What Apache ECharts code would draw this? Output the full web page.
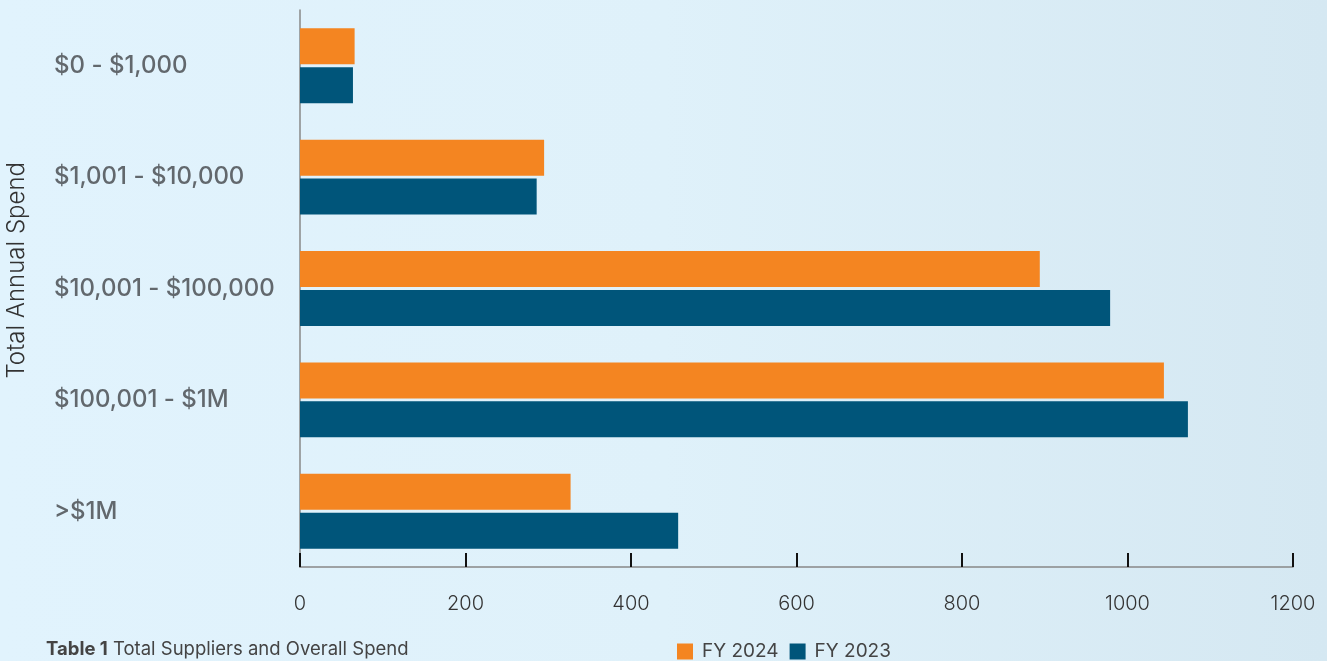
<!DOCTYPE html>
<html>
<head>
<meta charset="utf-8">
<script src="https://cdn.jsdelivr.net/npm/echarts@6/dist/echarts.min.js"></script>
<style>
html,body{margin:0;padding:0;}
#c{width:1327px;height:661px;background:linear-gradient(to right,#e1f3fd 0%,#dff1fa 50%,#d5e8f2 100%);}
</style>
</head>
<body>
<div id="c"></div>
<script>
const categories = ['$0 - $1,000', '$1,001 - $10,000', '$10,001 - $100,000', '$100,001 - $1M', '>$1M'];
const fy2024 = [66, 295, 894, 1044, 327];
const fy2023 = [64, 286, 979, 1073, 457];
const xTicks = [0, 200, 400, 600, 800, 1000, 1200];

const font = 'Inter, "Open Sans", sans-serif';
const chart = echarts.init(document.getElementById('c'));
chart.setOption({
  backgroundColor: 'transparent',
  animation: false,
  title: {
    left: 46, top: 640, padding: 0,
    text: '{b|Table 1} Total Suppliers and Overall Spend',
    textStyle: {
      fontFamily: font, fontSize: 18.5, color: '#444', fontWeight: 'normal',
      rich: { b: { fontFamily: font, fontSize: 18.5, color: '#444', fontWeight: 'bold' } }
    }
  },
  legend: {
    left: 677, top: 642, padding: 0,
    itemWidth: 16, itemHeight: 16, itemGap: 11,
    icon: 'rect',
    textStyle: { fontFamily: font, fontSize: 19, color: '#444', padding: [0, 0, 0, 4] },
    data: ['FY 2024', 'FY 2023']
  },
  graphic: [{
    type: 'text', left: 5, top: 162,
    rotation: Math.PI / 2,
    style: { text: 'Total Annual Spend', fontFamily: font, fontSize: 24, fontWeight: 300, fill: '#333' }
  }],
  grid: { left: 300, right: 34, top: 10, bottom: 94, containLabel: false, outerBoundsMode: 'none' },
  xAxis: {
    type: 'value', min: 0, max: 1200, interval: 200,
    axisLine: { show: true, lineStyle: { color: '#888', width: 1.5 } },
    axisTick: { show: true, inside: true, length: 14, lineStyle: { color: '#111', width: 2 } },
    splitLine: { show: false },
    axisLabel: {
      margin: 27, fontFamily: font, fontSize: 20, fontWeight: 300, color: '#333',
      formatter: v => xTicks.includes(v) ? String(v) : ''
    }
  },
  yAxis: {
    type: 'category', data: categories, inverse: true,
    axisLine: { show: true, lineStyle: { color: '#888', width: 1.5 } },
    axisTick: { show: false },
    axisLabel: {
      align: 'left', margin: 246, fontFamily: font, fontSize: 24, color: '#62686d', fontWeight: 500,
      padding: [0, 0, 4, 0]
    }
  },
  series: [
    { name: 'FY 2024', type: 'bar', data: fy2024, barWidth: 36, barGap: '8%', itemStyle: { color: '#f48521' } },
    { name: 'FY 2023', type: 'bar', data: fy2023, barWidth: 36, itemStyle: { color: '#00557a' } }
  ]
});
</script>
</body>
</html>
